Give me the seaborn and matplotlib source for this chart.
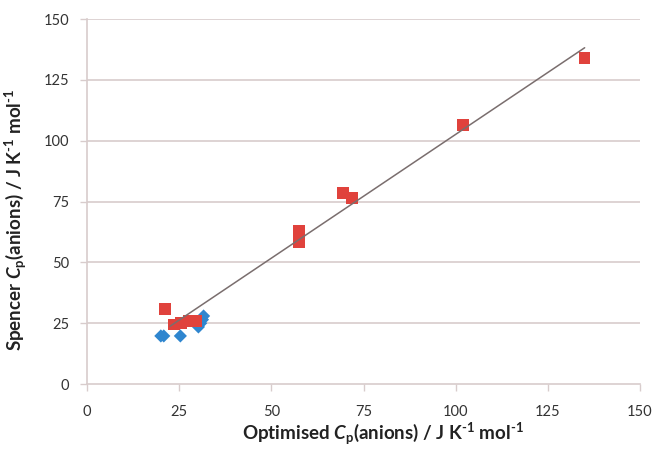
import numpy as np
import pandas as pd
import matplotlib
matplotlib.use("Agg")
import matplotlib.pyplot as plt
import seaborn as sns

# Data
red_x = [21.2, 23.5, 25.5, 27.5, 29.5, 57.5, 57.5, 69.5, 71.8, 102.0, 135.0]
red_y = [30.8, 24.5, 25.0, 26.0, 26.0, 63.0, 58.5, 78.5, 76.5, 106.5, 134.0]
blue_x = [20.0, 20.8, 25.3, 30.2, 30.8, 31.3, 31.6]
blue_y = [19.8, 19.8, 19.8, 23.5, 25.0, 26.5, 28.0]
trend_x = [22.5, 135.0]
trend_y = [23.8, 138.2]
ticks = [0, 25, 50, 75, 100, 125, 150]

sns.set_theme(style="white")
plt.rcParams['font.family'] = ['Lato', 'DejaVu Sans']
plt.rcParams['mathtext.fontset'] = 'custom'
plt.rcParams['mathtext.rm'] = 'Lato:bold'
plt.rcParams['mathtext.it'] = 'Lato:italic:bold'
plt.rcParams['mathtext.bf'] = 'Lato:bold'

fig = plt.figure(figsize=(6.55, 4.53), dpi=100)
ax = fig.add_axes([0.133, 0.152, 0.844, 0.806])

grid_c = '#D8CCCC'
for t in ticks[1:]:
    ax.axhline(t, color=grid_c, lw=1.2, zorder=0)

df_red = pd.DataFrame({'x': red_x, 'y': red_y})
df_blue = pd.DataFrame({'x': blue_x, 'y': blue_y})
sns.scatterplot(data=df_blue, x='x', y='y', ax=ax, marker='D', s=45,
                color='#2F86CF', edgecolor='none', zorder=3)
sns.scatterplot(data=df_red, x='x', y='y', ax=ax, marker='s', s=70,
                color='#E0423C', edgecolor='none', zorder=4)
sns.lineplot(x=trend_x, y=trend_y, ax=ax, color='#7A6E6E', lw=1.1, zorder=5)

ax.set_xlim(0, 150)
ax.set_ylim(0, 150)
ax.set_xticks(ticks)
ax.set_yticks(ticks)
for s in ['top', 'right']:
    ax.spines[s].set_visible(False)
for s in ['left', 'bottom']:
    ax.spines[s].set_color(grid_c)
    ax.spines[s].set_linewidth(1.2)
ax.tick_params(axis='both', which='both', length=5, width=1.0, color=grid_c,
               labelsize=10.5, labelcolor='#333333', pad=10, direction='out',
               bottom=True, left=True)
ax.tick_params(axis='y', pad=8)

sup = r"$^{\text{-1}}$"
ax.set_xlabel(r"Optimised $\mathit{C}_\mathrm{p}$(anions) / J K" + sup + " mol" + sup,
              fontsize=13.5, fontweight='bold', color='#222222', labelpad=6)
ax.set_ylabel(r"Spencer $\mathit{C}_\mathrm{p}$(anions) / J K" + sup + " mol" + sup,
              fontsize=13.5, fontweight='bold', color='#222222', labelpad=8)
ax.xaxis.set_label_coords(0.535, -0.1)
ax.yaxis.set_label_coords(-0.105, 0.45)

fig.savefig('out.png', dpi=100)
